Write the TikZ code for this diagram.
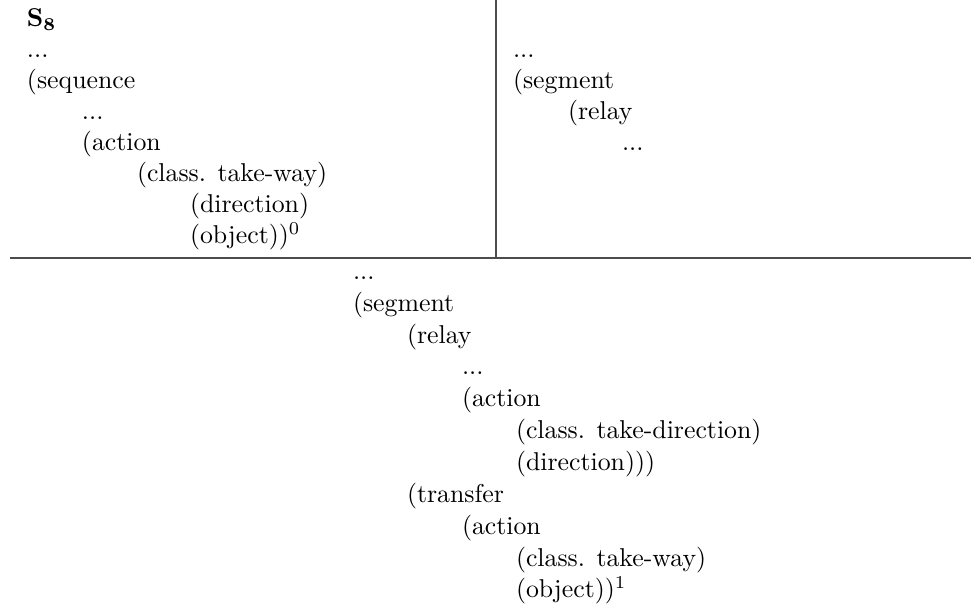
\documentclass[tikz,border=0pt]{standalone}
\begin{document}
\begin{tikzpicture}[x=0.3876pt, y=-0.3876pt,
  ln/.style={anchor=base west, inner sep=0pt, outer sep=0pt},
  rule/.style={draw=black!70, line width=0.55pt}]
\useasboundingbox (0,0) rectangle (971,608);

% dividing rules
\coordinate (vtop) at (496,0);
\coordinate (vbot) at (496,258);
\coordinate (hl) at (10,258);
\coordinate (hr) at (971,258);
\draw[rule] (vtop) -- (vbot);
\draw[rule] (hl) -- (hr);

% upper left panel
\node[ln] (l1) at (27,27)  {$\mathbf{S_8}$};
\node[ln] (l2) at (27,58)  {...};
\node[ln] (l3) at (27,89)  {(sequence};
\node[ln] (l4) at (82,120) {...};
\node[ln] (l5) at (82,151) {(action};
\node[ln] (l6) at (137,182) {(class. take-way)};
\node[ln] (l7) at (190,213) {(direction)};
\node[ln] (l8) at (190,244) {(object))$^0$};

% upper right panel
\node[ln] (r1) at (513,58)  {...};
\node[ln] (r2) at (513,89)  {(segment};
\node[ln] (r3) at (568,120) {(relay};
\node[ln] (r4) at (622,151) {...};

% lower panel
\node[ln] (b1)  at (353,280) {...};
\node[ln] (b2)  at (353,312) {(segment};
\node[ln] (b3)  at (407,344) {(relay};
\node[ln] (b4)  at (462,375) {...};
\node[ln] (b5)  at (462,407) {(action};
\node[ln] (b6)  at (516,439) {(class. take-direction)};
\node[ln] (b7)  at (516,471) {(direction)))};
\node[ln] (b8)  at (407,503) {(transfer};
\node[ln] (b9)  at (462,535) {(action};
\node[ln] (b10) at (516,567) {(class. take-way)};
\node[ln] (b11) at (516,598) {(object))$^1$};
\end{tikzpicture}
\end{document}
